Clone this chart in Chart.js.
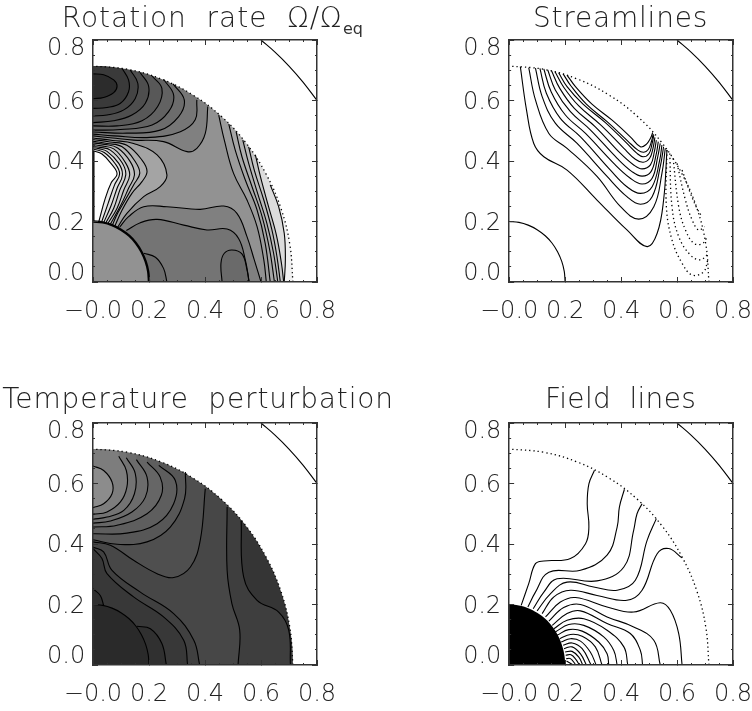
<!DOCTYPE html>
<html>
<head>
<meta charset="utf-8">
<script src="https://cdn.jsdelivr.net/npm/chart.js@4"></script>
<style>
  html, body { margin: 0; padding: 0; background: #fff; overflow: hidden; width: 752px; height: 711px; }
  canvas { position: absolute; }
</style>
</head>
<body>
<canvas id="rotation"></canvas>
<canvas id="stream"></canvas>
<canvas id="temperature"></canvas>
<canvas id="field"></canvas>
<script>
const xTickValues = [0, 0.2, 0.4, 0.6, 0.8];
const yTickValues = [0.2, 0.4, 0.6];

// shared boundaries
const outerArc = [[0.714,0],[0.703,0.124],[0.671,0.244],[0.618,0.357],[0.547,0.459],[0.459,0.547],[0.357,0.618],[0.244,0.671],[0.124,0.703],[0,0.714]];
const coreArc = [[0,0.2],[0.035,0.197],[0.068,0.188],[0.1,0.173],[0.129,0.153],[0.153,0.129],[0.173,0.1],[0.188,0.068],[0.197,0.035],[0.2,0]];
const cornerArc = [[0.6,0.8],[0.65,0.76],[0.7,0.714],[0.75,0.661],[0.8,0.6]];

// rotation rate contours
const rotTop = [
  [[0,0.688],[0.038,0.685],[0.074,0.668],[0.086,0.648],[0.074,0.626],[0.038,0.61],[0,0.606]],
  [[0.104,0.706],[0.127,0.668],[0.127,0.629],[0.098,0.591],[0.05,0.577],[0,0.574]],
  [[0.133,0.701],[0.16,0.657],[0.151,0.607],[0.11,0.569],[0.05,0.552],[0,0.549]],
  [[0.169,0.692],[0.199,0.646],[0.187,0.591],[0.139,0.552],[0.074,0.533],[0,0.527]],
  [[0.211,0.681],[0.246,0.64],[0.231,0.58],[0.175,0.533],[0.086,0.516],[0,0.516]],
  [[0.252,0.67],[0.288,0.618],[0.27,0.563],[0.211,0.519],[0.098,0.504],[0,0.502]],
  [[0.286,0.655],[0.326,0.602],[0.306,0.547],[0.24,0.502],[0.121,0.492],[0,0.496]],
  [[0.371,0.602],[0.365,0.536],[0.312,0.497],[0.205,0.478],[0.074,0.483],[0,0.489]],
  [[0.41,0.58],[0.401,0.491],[0.371,0.442],[0.336,0.431],[0.252,0.464],[0.145,0.469],[0.07,0.476],[0,0.483]],
];
const rotTopShades = ['#2c2c2c','#3a3a3a','#444444','#4e4e4e','#585858','#626262','#6c6c6c','#767676','#808080'];
const rotHole = [
  [[0,0.476],[0.07,0.468],[0.145,0.458],[0.229,0.42],[0.264,0.354],[0.24,0.315],[0.181,0.282],[0.121,0.227],[0.088,0.181]],
  [[0,0.471],[0.06,0.463],[0.121,0.452],[0.175,0.403],[0.193,0.365],[0.175,0.332],[0.139,0.293],[0.104,0.238],[0.077,0.183]],
  [[0,0.465],[0.05,0.458],[0.104,0.447],[0.151,0.398],[0.167,0.359],[0.145,0.321],[0.115,0.271],[0.088,0.227],[0.068,0.185]],
  [[0,0.46],[0.04,0.455],[0.088,0.443],[0.133,0.398],[0.148,0.354],[0.127,0.31],[0.1,0.255],[0.06,0.188]],
  [[0,0.454],[0.03,0.45],[0.074,0.44],[0.115,0.396],[0.131,0.354],[0.11,0.304],[0.086,0.244],[0.052,0.192]],
  [[0,0.448],[0.025,0.445],[0.062,0.436],[0.104,0.394],[0.117,0.354],[0.095,0.302],[0.074,0.244],[0.045,0.194]],
  [[0,0.444],[0.02,0.441],[0.05,0.432],[0.092,0.392],[0.105,0.354],[0.086,0.31],[0.064,0.251],[0.038,0.196]],
  [[0,0.44],[0.04,0.428],[0.08,0.39],[0.095,0.357],[0.077,0.321],[0.054,0.26],[0.031,0.199]],
  [[0,0.434],[0.032,0.423],[0.064,0.392],[0.086,0.357],[0.065,0.328],[0.044,0.277],[0.021,0.2]],
];
const rotHoleShades = ['#a4a4a4','#aeaeae','#b8b8b8','#c2c2c2','#cccccc','#d6d6d6','#e0e0e0','#eaeaea','#ffffff'];
const rotRight = [
  [[0.449,0.552],[0.469,0.469],[0.502,0.359],[0.55,0.271],[0.586,0.183],[0.61,0.073],[0.619,0]],
  [[0.485,0.522],[0.508,0.436],[0.544,0.337],[0.586,0.238],[0.615,0.128],[0.633,0]],
  [[0.511,0.497],[0.532,0.414],[0.568,0.315],[0.604,0.216],[0.631,0.106],[0.648,0]],
  [[0.535,0.469],[0.556,0.392],[0.588,0.293],[0.621,0.194],[0.645,0.095],[0.66,0]],
  [[0.556,0.447],[0.576,0.37],[0.61,0.271],[0.639,0.172],[0.657,0.084],[0.669,0]],
  [[0.58,0.42],[0.598,0.348],[0.627,0.249],[0.655,0.155],[0.673,0.062],[0.681,0]],
  [[0.633,0.321],[0.663,0.249],[0.683,0.161],[0.687,0.073],[0.683,0]],
];
const rotRightShades = ['#9c9c9c','#a6a6a6','#b0b0b0','#bababa','#c4c4c4','#dcdcdc','#f0f0f0'];
const rotLower = [
  [[0.095,0.181],[0.127,0.216],[0.181,0.249],[0.264,0.249],[0.383,0.24],[0.467,0.251],[0.514,0.227],[0.55,0.15],[0.576,0.073],[0.6,0]],
  [[0.119,0.17],[0.169,0.196],[0.229,0.207],[0.324,0.188],[0.407,0.172],[0.479,0.175],[0.52,0.144],[0.544,0.073],[0.558,0]],
  [[0.461,0],[0.457,0.062],[0.469,0.095],[0.496,0.106],[0.532,0.093],[0.55,0.04],[0.557,0]],
  [[0.181,0.095],[0.223,0.082],[0.252,0.045],[0.264,0]],
];
const rotLowerShades = ['#808080','#747474','#6a6a6a','#6c6c6c'];

// streamlines
const streamSolid = [
  [[0.04,0.712],[0.062,0.569],[0.088,0.458],[0.124,0.414],[0.207,0.37],[0.314,0.271],[0.421,0.172],[0.493,0.117],[0.529,0.161],[0.552,0.271],[0.564,0.436]],
  [[0.07,0.709],[0.094,0.602],[0.142,0.491],[0.207,0.442],[0.314,0.349],[0.398,0.249],[0.463,0.208],[0.517,0.249],[0.546,0.359],[0.558,0.442]],
  [[0.094,0.707],[0.118,0.613],[0.165,0.525],[0.243,0.458],[0.35,0.349],[0.421,0.282],[0.469,0.257],[0.511,0.282],[0.54,0.381],[0.552,0.447]],
  [[0.11,0.706],[0.133,0.624],[0.183,0.541],[0.255,0.48],[0.362,0.37],[0.421,0.315],[0.469,0.293],[0.511,0.315],[0.538,0.403],[0.546,0.453]],
  [[0.124,0.704],[0.15,0.629],[0.201,0.552],[0.273,0.491],[0.374,0.392],[0.433,0.343],[0.475,0.324],[0.511,0.343],[0.531,0.414],[0.54,0.458]],
  [[0.138,0.701],[0.165,0.635],[0.219,0.563],[0.29,0.503],[0.386,0.409],[0.439,0.365],[0.475,0.35],[0.507,0.365],[0.525,0.42],[0.533,0.464]],
  [[0.151,0.699],[0.181,0.64],[0.233,0.574],[0.308,0.513],[0.398,0.425],[0.445,0.387],[0.475,0.374],[0.505,0.387],[0.519,0.431],[0.526,0.469]],
  [[0.164,0.695],[0.195,0.644],[0.249,0.582],[0.326,0.52],[0.41,0.442],[0.451,0.406],[0.479,0.396],[0.502,0.409],[0.514,0.442],[0.521,0.478]],
  [[0.177,0.692],[0.207,0.646],[0.264,0.588],[0.344,0.527],[0.421,0.458],[0.457,0.425],[0.479,0.414],[0.5,0.425],[0.511,0.458],[0.517,0.486]],
  [[0.193,0.688],[0.221,0.648],[0.276,0.588],[0.35,0.53],[0.424,0.466],[0.46,0.436],[0.481,0.429],[0.497,0.438],[0.509,0.466],[0.515,0.49]],
  [[0.207,0.684],[0.237,0.646],[0.296,0.588],[0.368,0.535],[0.433,0.48],[0.469,0.447],[0.49,0.455],[0.505,0.475],[0.513,0.494]],
];
const streamDotted = [
  [[0.564,0.436],[0.562,0.249],[0.582,0.139],[0.618,0.062],[0.654,0.023],[0.695,0.034],[0.71,0.073]],
  [[0.574,0.425],[0.582,0.249],[0.606,0.15],[0.648,0.089],[0.683,0.073],[0.707,0.089]],
  [[0.586,0.409],[0.606,0.249],[0.63,0.172],[0.66,0.128],[0.689,0.126],[0.705,0.144]],
  [[0.6,0.392],[0.63,0.271],[0.654,0.205],[0.677,0.172],[0.698,0.183]],
  [[0.618,0.37],[0.648,0.293],[0.671,0.244],[0.689,0.216]],
];

// temperature contours
const tempTop = [
  [[0,0.658],[0.038,0.643],[0.068,0.605],[0.068,0.566],[0.038,0.533],[0,0.52]],
  [[0.092,0.69],[0.119,0.643],[0.121,0.588],[0.098,0.539],[0.05,0.506],[0,0.498]],
  [[0.119,0.685],[0.151,0.633],[0.148,0.566],[0.11,0.511],[0.05,0.489],[0,0.482]],
  [[0.155,0.679],[0.193,0.621],[0.187,0.555],[0.139,0.506],[0.062,0.476],[0,0.469]],
  [[0.193,0.671],[0.24,0.621],[0.244,0.561],[0.193,0.5],[0.086,0.462],[0,0.456]],
  [[0.235,0.66],[0.294,0.61],[0.288,0.533],[0.229,0.467],[0.121,0.436],[0,0.434]],
  [[0.33,0.638],[0.327,0.55],[0.276,0.456],[0.193,0.407],[0.086,0.399],[0,0.414]],
  [[0.401,0.583],[0.383,0.412],[0.348,0.324],[0.288,0.289],[0.229,0.302],[0.145,0.346],[0.062,0.396],[0,0.407]],
];
const tempTopShades = ['#8c8c8c','#7d7d7d','#737373','#6c6c6c','#666666','#5e5e5e','#575757','#4f4f4f'];
const tempRight = [
  [[0.479,0.522],[0.479,0.313],[0.496,0.203],[0.524,0.115],[0.518,0]],
  [[0.529,0.478],[0.538,0.291],[0.586,0.214],[0.663,0.175],[0.699,0.115],[0.705,0]],
];
const tempRightShades = ['#3e3e3e','#353535'];
const tempLower = [
  [[0,0.39],[0.038,0.374],[0.068,0.313],[0.169,0.241],[0.288,0.17],[0.36,0.082],[0.381,0]],
  [[0,0.385],[0.032,0.352],[0.05,0.302],[0.145,0.225],[0.252,0.159],[0.324,0.082],[0.338,0]],
  [[0,0.252],[0.026,0.23],[0.038,0.197]],
  [[0.157,0.128],[0.205,0.12],[0.246,0.071],[0.262,0]],
];
const tempLowerShades = ['#404040','#383838','#303030','#303030'];

// field lines
const fieldLines = [
  [[0.043,0.197],[0.07,0.269],[0.094,0.335],[0.124,0.344],[0.219,0.352],[0.273,0.401],[0.285,0.456],[0.279,0.533],[0.285,0.599],[0.305,0.644]],
  [[0.067,0.192],[0.094,0.241],[0.142,0.307],[0.255,0.313],[0.35,0.363],[0.386,0.456],[0.394,0.522],[0.412,0.581]],
  [[0.086,0.186],[0.124,0.241],[0.171,0.285],[0.314,0.278],[0.41,0.324],[0.445,0.445],[0.457,0.5],[0.475,0.533]],
  [[0.1,0.179],[0.148,0.236],[0.207,0.274],[0.302,0.258],[0.386,0.247],[0.451,0.28],[0.493,0.412],[0.526,0.484]],
  [[0.118,0.17],[0.16,0.225],[0.219,0.247],[0.314,0.23],[0.421,0.214],[0.475,0.247],[0.529,0.368],[0.57,0.385],[0.618,0.354]],
  [[0.13,0.159],[0.183,0.208],[0.237,0.223],[0.35,0.192],[0.445,0.175],[0.54,0.206],[0.576,0.181],[0.606,0.104],[0.618,0]],
  [[0.142,0.145],[0.195,0.19],[0.255,0.2],[0.35,0.159],[0.445,0.126],[0.517,0.082],[0.54,0]],
  [[0.154,0.131],[0.207,0.17],[0.255,0.179],[0.35,0.137],[0.433,0.104],[0.469,0.048],[0.477,0]],
  [[0.16,0.12],[0.207,0.148],[0.267,0.153],[0.35,0.115],[0.41,0.06],[0.424,0]],
  [[0.165,0.109],[0.213,0.134],[0.267,0.131],[0.338,0.093],[0.374,0.048],[0.386,0]],
  [[0.171,0.098],[0.213,0.117],[0.261,0.112],[0.32,0.076],[0.35,0.037],[0.356,0]],
  [[0.181,0.087],[0.219,0.101],[0.261,0.095],[0.308,0.06],[0.332,0]],
  [[0.186,0.076],[0.219,0.087],[0.255,0.079],[0.29,0.043],[0.311,0]],
  [[0.193,0.065],[0.225,0.073],[0.261,0.054],[0.293,0]],
  [[0.196,0.054],[0.225,0.06],[0.255,0.037],[0.276,0]],
  [[0.2,0.043],[0.225,0.045],[0.249,0.026],[0.263,0]],
  [[0.202,0.032],[0.221,0.034],[0.239,0.018],[0.251,0]],
  [[0.204,0.021],[0.219,0.021],[0.239,0]],
  [[0.205,0.013],[0.229,0]],
];

const FAR = 0.95, NEAR = -0.1;
const INK = '#222';
const tickFont = { family: 'DejaVu Sans', size: 24, weight: 200 };
const titleFont = { family: 'DejaVu Sans', size: 28, weight: 200, lineHeight: 1 };

const pts = (a) => a.map(([x, y]) => ({ x, y }));

function line(a, extra) {
  return { data: pts(a), showLine: true, borderColor: '#000', borderWidth: 1.1, tension: 0.4, pointRadius: 0, fill: false, ...extra };
}
function area(a, color, tension = 0.4) {
  return { data: pts(a), showLine: true, borderWidth: 0, borderColor: 'transparent', backgroundColor: color, fill: 'shape', tension, pointRadius: 0 };
}
const dotted = { borderDash: [1.3, 3], borderWidth: 1.3 };
const first = (a) => a[0];
const last = (a) => a[a.length - 1];

// closed regions: a contour plus points outside the plot, clipped by the chart area
const toRight = (c) => [...c, [last(c)[0], NEAR], [FAR, NEAR], [FAR, FAR], [first(c)[0], FAR]];
const toTopLeft = (c) => [...c, [NEAR, last(c)[1]], [NEAR, FAR], [first(c)[0], FAR]];
const toLeft = (c) => [...c, [last(c)[0], 0.1], [NEAR, 0.1], [NEAR, first(c)[1]]];
const toBottom = (c) => [...c, [last(c)[0], NEAR], [NEAR, NEAR], [NEAR, first(c)[1]]];
const toAxis = (c) => [...c, [last(c)[0], NEAR], [first(c)[0], NEAR]];

const plate = [[NEAR, NEAR], [FAR, NEAR], [FAR, FAR], [NEAR, FAR]];
const outsideMask = [[0.703, -0.124], ...outerArc, [-0.124, 0.703], [-0.3, 0.703], [-0.3, FAR], [FAR, FAR], [FAR, -0.3], [0.703, -0.3]];
const coreBlob = [[0.197, -0.035], ...[...coreArc].reverse(), [-0.035, 0.197], [NEAR, 0.1], [NEAR, NEAR], [0.1, NEAR]];

function tickScale(axis, position, step, o = {}) {
  const { length = 2, labels = null, size = 0, padding = 0, offset = 0, frame = false, marks = true, mirror = false } = o;
  return {
    type: 'linear', axis, position, min: 0, max: 0.8, weight: size ? 1 : 0,
    afterFit(s) { if (axis === 'x') s.height = size; else s.width = size; },
    ticks: {
      stepSize: step, display: !!labels, autoSkip: false, maxRotation: 0, padding, mirror, z: 1, color: INK, font: tickFont, labelOffset: offset,
      callback(v) {
        if (!labels || !labels.some((t) => Math.abs(t - v) < 1e-6)) return '';
        if (axis === 'x' && v === 0) return '\u22120.0';
        return v.toFixed(1);
      },
    },
    grid: { drawOnChartArea: false, drawTicks: marks, tickLength: -length, tickColor: '#333', tickWidth: 1, z: 1 },
    border: { display: frame, color: '#333', width: 1.5, z: 1 },
  };
}

function makePanel(id, box, title, layers, plugins = []) {
  const el = document.getElementById(id);
  el.style.left = box.left + 'px';
  el.style.top = box.top + 'px';
  el.width = box.width;
  el.height = box.height;
  const n = layers.length;
  const datasets = layers.map((d, i) => ({ ...d, order: n - i }));
  const rightGap = box.width - box.areaLeft - 224;
  // title is drawn before the datasets, tick labels after them
  const spacing = {
    id: 'titleSpacing',
    beforeDraw(chart) { chart.ctx.letterSpacing = box.spacing + 'px'; },
    beforeDatasetsDraw(chart) { chart.ctx.letterSpacing = '0px'; },
  };
  return new Chart(el, {
    type: 'scatter',
    data: { datasets },
    plugins: [spacing, ...plugins],
    options: {
      responsive: false, animation: false, events: [],
      layout: { padding: 0 },
      plugins: {
        legend: { display: false },
        tooltip: { enabled: false },
        title: { display: true, text: title, color: INK, font: titleFont, padding: { top: box.titleTop, bottom: box.titleGap } },
      },
      scales: {
        x: tickScale('x', 'bottom', 0.2, { length: 5, labels: xTickValues, size: box.bottom, padding: 20, frame: true }),
        y: tickScale('y', 'left', 0.2, { length: 5, labels: yTickValues, size: box.areaLeft, padding: 13, offset: 2, frame: true }),
        yHigh: tickScale('y', 'left', 0.2, { labels: [0.8], mirror: true, padding: -46, offset: 9, marks: false }),
        yLow: tickScale('y', 'left', 0.2, { labels: [0], mirror: true, padding: -46, offset: -8, marks: false }),
        xMinor: tickScale('x', 'bottom', 0.05),
        yMinor: tickScale('y', 'left', 0.05),
        xTop: tickScale('x', 'top', 0.2, { length: 5, frame: true }),
        yRight: tickScale('y', 'right', 0.2, { length: 5, frame: true, size: rightGap }),
        xTopMinor: tickScale('x', 'top', 0.05),
        yRightMinor: tickScale('y', 'right', 0.05),
      },
    },
  });
}

const subscript = {
  id: 'eqSubscript',
  afterDraw(chart) {
    const c = chart.ctx;
    c.save();
    c.fillStyle = '#333';
    c.font = '16px "DejaVu Sans"';
    c.textBaseline = 'alphabetic';
    c.fillText('eq', 343, 34);
    c.restore();
  },
};

const rim = line(outerArc, dotted);
const corner = line(cornerArc);

makePanel('rotation', { left: 0, top: 0, width: 424, height: 330, areaLeft: 93, bottom: 48, titleTop: 6, titleGap: 6, spacing: 1 },
  'Rotation  rate  \u03a9/\u03a9  ', [
    area(plate, '#929292', 0),
    ...rotRight.map((c, i) => area(toRight(c), rotRightShades[i])),
    ...rotTop.map((c, i) => ({ c, i })).reverse().map(({ c, i }) => area(toTopLeft(c), rotTopShades[i])),
    ...rotHole.map((c, i) => area(toLeft(c), rotHoleShades[i])),
    ...rotLower.slice(0, 2).map((c, i) => area(toBottom(c), rotLowerShades[i])),
    area(toAxis(rotLower[2]), rotLowerShades[2]),
    area(toBottom(rotLower[3]), rotLowerShades[3]),
    area(coreBlob, '#929292'),
    area(outsideMask, '#ffffff'),
    ...[...rotTop, ...rotHole, ...rotRight, ...rotLower].map((c) => line(c)),
    line(coreArc, { borderWidth: 2.4 }),
    line([[0, 0.2], [0, 0.434]], { borderWidth: 3, tension: 0 }),
    rim, corner,
  ], [subscript]);

makePanel('stream', { left: 460, top: 0, width: 321, height: 330, areaLeft: 49, bottom: 48, titleTop: 6, titleGap: 6, spacing: 0.8 },
  'Streamlines', [
    ...streamSolid.map((c) => line(c)),
    ...streamDotted.map((c) => line(c, dotted)),
    line(coreArc), rim, corner,
  ]);

makePanel('temperature', { left: 0, top: 360, width: 396, height: 351, areaLeft: 93, bottom: 46, titleTop: 27, titleGap: 8, spacing: 0.85 },
  'Temperature  perturbation', [
    area(plate, '#474747', 0),
    ...tempRight.map((c, i) => area(toRight(c), tempRightShades[i])),
    ...tempTop.map((c, i) => ({ c, i })).reverse().map(({ c, i }) => area(toTopLeft(c), tempTopShades[i])),
    ...tempLower.slice(0, 2).map((c, i) => area(toBottom(c), tempLowerShades[i])),
    area(toLeft(tempLower[2]), tempLowerShades[2]),
    area(toBottom(tempLower[3]), tempLowerShades[3]),
    area(coreBlob, '#2a2a2a'),
    area(outsideMask, '#ffffff'),
    ...[...tempTop, ...tempRight, ...tempLower].map((c) => line(c)),
    line(coreArc), rim, corner,
  ]);

makePanel('field', { left: 460, top: 360, width: 321, height: 351, areaLeft: 49, bottom: 46, titleTop: 27, titleGap: 8, spacing: 0.3 },
  'Field  lines', [
    area(coreBlob, '#000000'),
    ...fieldLines.map((c) => line(c)),
    rim, corner,
  ]);
</script>
</body>
</html>
